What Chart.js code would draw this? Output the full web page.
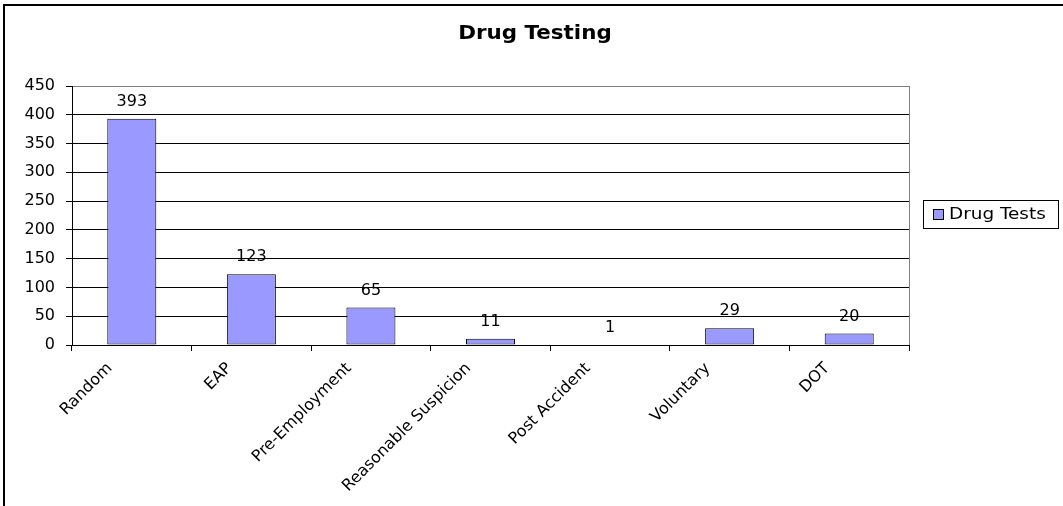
<!DOCTYPE html>
<html>
<head>
<meta charset="utf-8">
<script src="https://cdn.jsdelivr.net/npm/chart.js@4"></script>
<style>
  html, body { margin: 0; padding: 0; background: #fff; }
  canvas { display: block; }
</style>
</head>
<body>
<canvas id="drugChart" width="1063" height="506"></canvas>
<script>
// --- data ---
const categories = ['Random', 'EAP', 'Pre-Employment', 'Reasonable Suspicion', 'Post Accident', 'Voluntary', 'DOT'];
const drugTests = [393, 123, 65, 11, 1, 29, 20];
const seriesName = 'Drug Tests';
const chartTitle = 'Drug Testing';
const yMin = 0;
const yMax = 450;
const yStep = 50;

const FONT = '"DejaVu Sans", "Liberation Sans", Arial, sans-serif';
const BAR_COLOR = '#9999FF';

// outer frame, plot frame (top/right), title, legend box and value labels
const framePlugin = {
  id: 'frame',
  beforeDraw(chart) {
    const ctx = chart.ctx;
    ctx.save();
    ctx.fillStyle = '#fff';
    ctx.fillRect(0, 0, chart.width, chart.height);
    ctx.strokeStyle = '#000';
    ctx.lineWidth = 2;
    ctx.beginPath();
    ctx.moveTo(4, chart.height);
    ctx.lineTo(4, 5);
    ctx.lineTo(chart.width, 5);
    ctx.stroke();
    ctx.restore();
  },
  beforeDatasetsDraw(chart) {
    const { ctx, chartArea } = chart;
    ctx.save();
    ctx.strokeStyle = '#808080';
    ctx.lineWidth = 1;
    ctx.beginPath();
    ctx.moveTo(Math.round(chartArea.right) + 0.5, chartArea.top);
    ctx.lineTo(Math.round(chartArea.right) + 0.5, chartArea.bottom);
    ctx.stroke();
    ctx.restore();
  },
  afterDatasetsDraw(chart) {
    // value labels above bars
    const ctx = chart.ctx;
    const meta = chart.getDatasetMeta(0);
    ctx.save();
    ctx.fillStyle = '#000';
    ctx.font = '16px ' + FONT;
    ctx.textAlign = 'center';
    ctx.textBaseline = 'middle';
    meta.data.forEach((bar, i) => {
      ctx.fillText(String(drugTests[i]), bar.x, bar.y - 17);
    });
    ctx.restore();
  },
  afterDraw(chart) {
    const ctx = chart.ctx;
    ctx.save();
    // title
    ctx.fillStyle = '#000';
    ctx.font = 'bold 20px ' + FONT;
    ctx.textAlign = 'center';
    ctx.textBaseline = 'alphabetic';
    ctx.translate(535, 39);
    ctx.scale(1.07, 1);
    ctx.fillText(chartTitle, 0, 0);
    ctx.restore();

    // legend
    ctx.save();
    ctx.fillStyle = '#fff';
    ctx.strokeStyle = '#000';
    ctx.lineWidth = 1;
    ctx.fillRect(923.5, 200.5, 135, 28);
    ctx.strokeRect(923.5, 200.5, 135, 28);
    ctx.fillStyle = BAR_COLOR;
    ctx.fillRect(933.5, 209.5, 10, 10);
    ctx.strokeRect(933.5, 209.5, 10, 10);
    ctx.fillStyle = '#000';
    ctx.font = '16px ' + FONT;
    ctx.textAlign = 'left';
    ctx.textBaseline = 'middle';
    ctx.translate(949, 215);
    ctx.scale(1.15, 1);
    ctx.fillText(seriesName, 0, 0);
    ctx.restore();
  }
};

new Chart(document.getElementById('drugChart'), {
  type: 'bar',
  data: {
    labels: categories,
    datasets: [{
      label: seriesName,
      data: drugTests,
      backgroundColor: BAR_COLOR,
      borderColor: '#000',
      borderWidth: 1,
      borderSkipped: false,
      barPercentage: 0.41,
      categoryPercentage: 1
    }]
  },
  options: {
    responsive: false,
    animation: false,
    layout: { padding: { top: 86, right: 154, bottom: 0, left: 0 } },
    plugins: {
      legend: { display: false },
      title: { display: false },
      tooltip: { enabled: false }
    },
    scales: {
      x: {
        afterFit: (scale) => { scale.height = 161; },
        grid: {
          offset: true,
          drawOnChartArea: false,
          drawTicks: true,
          tickLength: 6,
          color: '#000'
        },
        border: { color: '#000', width: 1 },
        ticks: {
          color: '#000',
          font: { family: FONT, size: 16 },
          minRotation: 45,
          maxRotation: 45,
          autoSkip: false,
          padding: 8,
          labelOffset: -22
        }
      },
      y: {
        min: yMin,
        max: yMax,
        afterFit: (scale) => { scale.width = 72; },
        grid: {
          color: (c) => (c.tick && c.tick.value === yMax ? '#808080' : '#000'),
          tickColor: '#000',
          tickLength: 6,
          drawTicks: true
        },
        border: { color: '#000', width: 1 },
        ticks: {
          stepSize: yStep,
          color: '#000',
          font: { family: FONT, size: 16 },
          padding: 11
        }
      }
    }
  },
  plugins: [framePlugin]
});
</script>
</body>
</html>
